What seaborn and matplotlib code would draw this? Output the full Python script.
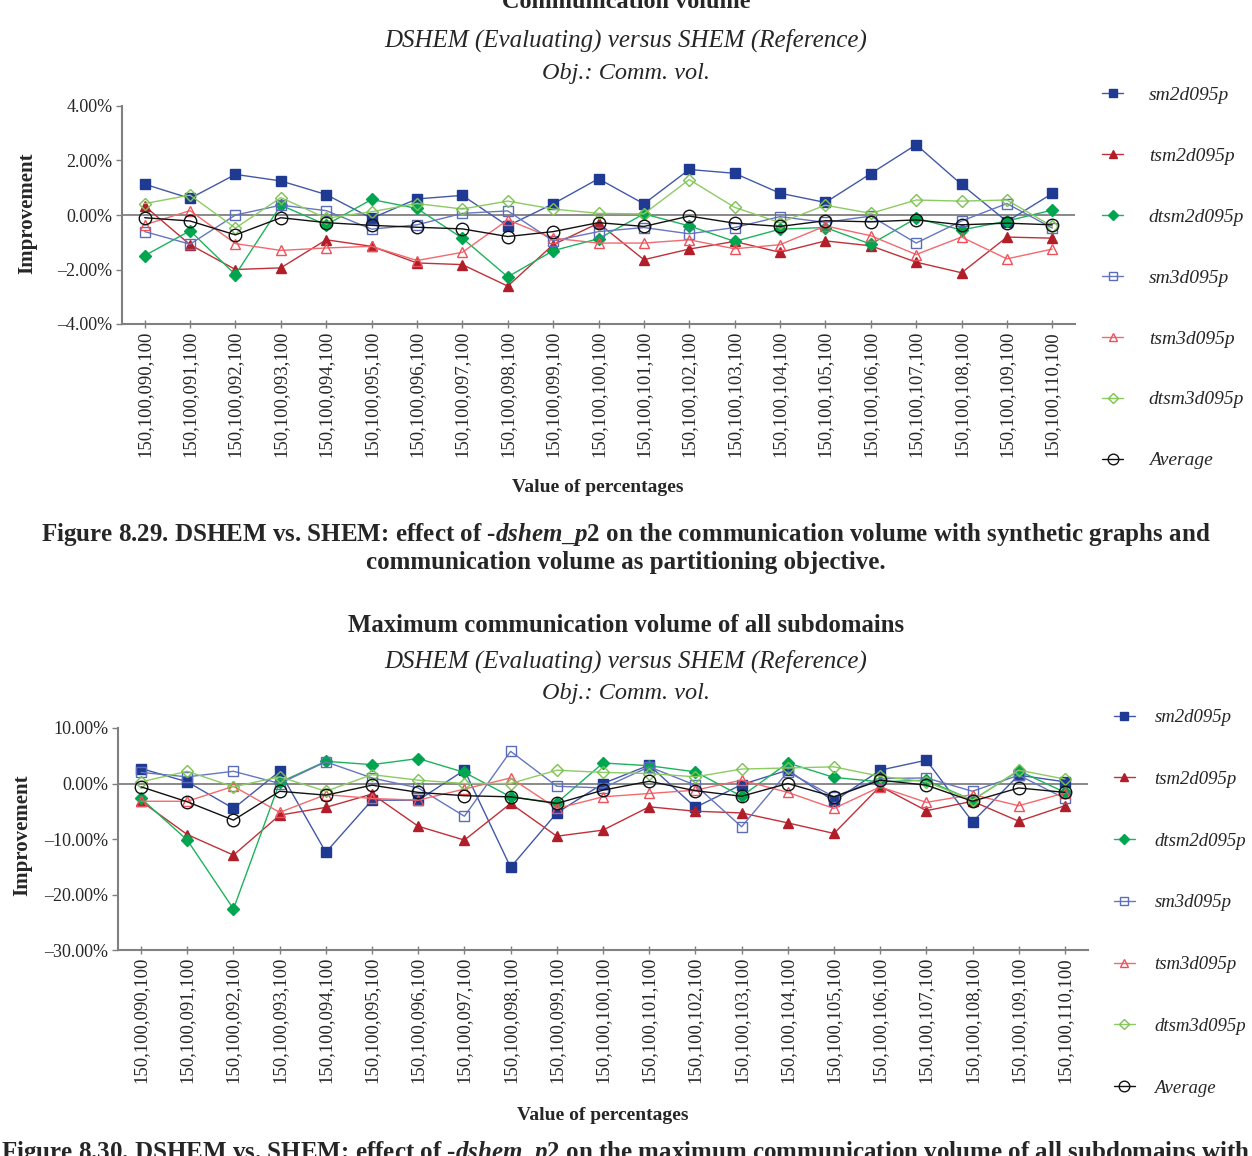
import numpy as np
import matplotlib.pyplot as plt
import pandas as pd
import seaborn as sns
from matplotlib.ticker import FuncFormatter

# ## data =====================================================================
settings = ['150,100,090,100', '150,100,091,100', '150,100,092,100', '150,100,093,100',
            '150,100,094,100', '150,100,095,100', '150,100,096,100', '150,100,097,100',
            '150,100,098,100', '150,100,099,100', '150,100,100,100', '150,100,101,100',
            '150,100,102,100', '150,100,103,100', '150,100,104,100', '150,100,105,100',
            '150,100,106,100', '150,100,107,100', '150,100,108,100', '150,100,109,100',
            '150,100,110,100']
series_names = ['sm2d095p', 'tsm2d095p', 'dtsm2d095p', 'sm3d095p', 'tsm3d095p', 'dtsm3d095p', 'Average']

# communication volume (%)
sm2d_cv = [1.13, 0.61, 1.49, 1.25, 0.75, -0.12, 0.59, 0.72, -0.40, 0.41, 1.33, 0.41, 1.67, 1.53, 0.80, 0.46, 1.52, 2.58, 1.12, -0.24, 0.79]
tsm2d_cv = [0.33, -1.09, -2.00, -1.94, -0.91, -1.15, -1.76, -1.82, -2.61, -1.09, -0.30, -1.64, -1.25, -0.97, -1.37, -0.95, -1.13, -1.73, -2.12, -0.81, -0.85]
dtsm2d_cv = [-1.49, -0.58, -2.19, 0.36, -0.36, 0.57, 0.24, -0.85, -2.27, -1.31, -0.87, 0.04, -0.40, -0.97, -0.52, -0.46, -1.07, -0.12, -0.55, -0.22, 0.18]
sm3d_cv = [-0.61, -1.07, 0.00, 0.36, 0.16, -0.52, -0.36, 0.06, 0.15, -0.95, -0.61, -0.46, -0.69, -0.46, -0.06, -0.27, -0.04, -1.03, -0.22, 0.42, -0.48]
tsm3d_cv = [-0.36, 0.16, -1.05, -1.30, -1.21, -1.15, -1.67, -1.37, -0.18, -0.85, -1.03, -1.03, -0.91, -1.24, -1.09, -0.40, -0.76, -1.45, -0.81, -1.61, -1.25]
dtsm3d_cv = [0.42, 0.73, -0.48, 0.64, -0.12, 0.12, 0.42, 0.22, 0.51, 0.22, 0.06, 0.04, 1.30, 0.28, -0.28, 0.36, 0.06, 0.55, 0.51, 0.55, -0.42]
avg_cv = [-0.10, -0.22, -0.73, -0.10, -0.28, -0.38, -0.45, -0.51, -0.79, -0.61, -0.28, -0.42, -0.04, -0.30, -0.42, -0.21, -0.25, -0.18, -0.36, -0.30, -0.36]

# maximum communication volume of all subdomains (%)
sm2d_max = [2.7, 0.3, -4.5, 2.2, -12.4, -3.0, -3.0, 2.4, -15.1, -5.3, 0.0, 3.3, -4.3, -0.2, 2.4, -3.2, 2.4, 4.2, -6.9, 1.5, 0.3]
tsm2d_max = [-3.2, -9.2, -12.9, -5.7, -4.3, -1.9, -7.7, -10.2, -3.6, -9.5, -8.4, -4.2, -5.0, -5.3, -7.1, -9.0, -0.5, -4.9, -3.2, -6.8, -4.0]
dtsm2d_max = [-2.7, -10.2, -22.6, 0.2, 4.0, 3.4, 4.5, 2.0, -2.4, -3.5, 3.7, 3.2, 2.1, -2.3, 3.7, 1.1, 0.3, 0.6, -3.0, 2.3, -1.6]
sm3d_max = [2.0, 1.2, 2.2, 0.0, 3.9, 1.0, -0.8, -5.9, 5.8, -0.5, -0.8, 3.0, -0.3, -7.8, 2.1, -2.4, 0.9, 1.0, -1.4, 1.5, -2.7]
tsm3d_max = [-3.2, -3.2, -0.5, -5.2, -2.0, -2.7, -3.0, -1.0, 1.0, -4.5, -2.4, -1.8, -1.2, 0.6, -1.6, -4.5, -0.6, -3.4, -2.0, -4.0, -1.7]
dtsm3d_max = [0.3, 2.2, -0.6, 1.2, -1.4, 1.6, 0.6, 0.0, 0.0, 2.4, 2.0, 1.8, 1.2, 2.6, 2.8, 3.0, 1.3, 0.3, -3.0, 2.4, 0.8]
avg_max = [-0.6, -3.3, -6.6, -1.4, -2.1, -0.3, -1.6, -2.2, -2.4, -3.6, -1.2, 0.4, -1.3, -2.3, 0.0, -2.4, 0.6, -0.3, -3.2, -0.8, -1.6]

df_cv = pd.DataFrame(dict(zip(['setting'] + series_names,
                              [settings, sm2d_cv, tsm2d_cv, dtsm2d_cv, sm3d_cv, tsm3d_cv, dtsm3d_cv, avg_cv])))
df_max = pd.DataFrame(dict(zip(['setting'] + series_names,
                               [settings, sm2d_max, tsm2d_max, dtsm2d_max, sm3d_max, tsm3d_max, dtsm3d_max, avg_max])))

# ## style ====================================================================
sns.set_theme(style='white')
plt.rcParams['font.family'] = ['Liberation Serif', 'DejaVu Serif']
plt.rcParams['mathtext.fontset'] = 'custom'
plt.rcParams['mathtext.rm'] = 'Liberation Serif:bold'
plt.rcParams['mathtext.it'] = 'Liberation Serif:bold:italic'

# marker colour, line colour, marker, filled, marker size
look = {
    'sm2d095p':   ('#1F3A93', '#4258A8', 's', True, 6.5),
    'tsm2d095p':  ('#B01E2A', '#C03038', '^', True, 7),
    'dtsm2d095p': ('#00A54F', '#1DB35C', 'D', True, 6),
    'sm3d095p':   ('#5B6CB9', '#6676C0', 's', False, 6.5),
    'tsm3d095p':  ('#F0505A', '#F26A6F', '^', False, 7.5),
    'dtsm3d095p': ('#7CC250', '#8CCB62', 'D', False, 6),
    'Average':    ('#111111', '#111111', 'o', False, 9),
}
GREY = '#808080'
W, H = 1252, 1156


def pct(v, pos):
    return f"{v:.2f}%".replace('-', '\u2013')


def draw(ax, df, ylim, step):
    for name in series_names:
        mc, lc, mk, filled, ms = look[name]
        sns.lineplot(data=df, x='setting', y=name, ax=ax, sort=False, color=lc, linewidth=1.0,
                     marker=mk, markersize=ms, markerfacecolor=mc if filled else 'none',
                     markeredgecolor=mc, markeredgewidth=1.0, label=name, zorder=3)
    if ax.get_legend() is not None:
        ax.get_legend().remove()
    ax.axhline(0, color=GREY, lw=1.3, zorder=1)
    ax.set_xlim(-0.5, len(settings) - 0.5)
    ax.set_ylim(*ylim)
    ax.set_yticks(np.arange(ylim[0], ylim[1] + step / 2, step))
    ax.yaxis.set_major_formatter(FuncFormatter(pct))
    ax.set_xlabel('')
    ax.set_ylabel('')
    sns.despine(ax=ax)
    for s in ['left', 'bottom']:
        ax.spines[s].set_color(GREY)
        ax.spines[s].set_linewidth(1.5)
    ax.tick_params(axis='x', rotation=90, labelsize=13.5, direction='inout', length=6,
                   width=1, color=GREY, pad=2, bottom=True)
    ax.tick_params(axis='y', labelsize=13, direction='out', length=4, width=1,
                   color=GREY, pad=3, left=True)


def fx(px):
    return px / W


def fy(py):
    return 1 - py / H


def side_legend(ax, x, y, spacing, size, textpad):
    h, l = ax.get_legend_handles_labels()
    fig.legend(h, l, loc='upper left', bbox_to_anchor=(fx(x), fy(y)), frameon=False,
               prop=dict(style='italic', size=size), labelspacing=spacing, handlelength=1.1,
               handletextpad=textpad, borderaxespad=0, borderpad=0, markerscale=0.85)


fig = plt.figure(figsize=(12.52, 11.56), dpi=100)

# ## top chart ================================================================
ax1 = fig.add_axes([fx(122), fy(324), fx(1075 - 122), (324 - 106) / H])
draw(ax1, df_cv, (-4, 4), 2)
fig.text(0.5, fy(2), 'Communication volume', ha='center', va='center', fontsize=17.5, fontweight='bold')
fig.text(0.5, fy(40), 'DSHEM (Evaluating) versus SHEM (Reference)', ha='center', va='center', fontsize=18, style='italic')
fig.text(0.5, fy(73), 'Obj.: Comm. vol.', ha='center', va='center', fontsize=17.5, style='italic')
fig.text(fx(27), fy(213), 'Improvement', rotation=90, ha='center', va='center', fontsize=15, fontweight='bold')
fig.text(fx(598), fy(488), 'Value of percentages', ha='center', va='center', fontsize=14, fontweight='bold')
side_legend(ax1, 1102, 86, 2.23, 14, 1.3)

fig.text(0.5, fy(534), r'Figure 8.29. DSHEM vs. SHEM: effect of $\mathit{\text{-}dshem\_p2}$ on the communication volume with synthetic graphs and',
         ha='center', va='center', fontsize=18, fontweight='bold')
fig.text(0.5, fy(562), 'communication volume as partitioning objective.', ha='center', va='center',
         fontsize=18, fontweight='bold')

# ## bottom chart =============================================================
ax2 = fig.add_axes([fx(118), fy(950), fx(1088 - 118), (950 - 728) / H])
draw(ax2, df_max, (-30, 10), 10)
fig.text(0.5, fy(625), 'Maximum communication volume of all subdomains', ha='center', va='center',
         fontsize=17.8, fontweight='bold')
fig.text(0.5, fy(661), 'DSHEM (Evaluating) versus SHEM (Reference)', ha='center', va='center', fontsize=18, style='italic')
fig.text(0.5, fy(694), 'Obj.: Comm. vol.', ha='center', va='center', fontsize=17.5, style='italic')
fig.text(fx(22), fy(835), 'Improvement', rotation=90, ha='center', va='center', fontsize=15, fontweight='bold')
fig.text(fx(603), fy(1116), 'Value of percentages', ha='center', va='center', fontsize=14, fontweight='bold')
side_legend(ax2, 1114, 709, 2.38, 13.5, 1.05)

fig.text(0.5, fy(1153), r'Figure 8.30. DSHEM vs. SHEM: effect of $\mathit{\text{-}dshem\_p2}$ on the maximum communication volume of all subdomains with',
         ha='center', va='center', fontsize=18, fontweight='bold')

fig.savefig('out.png', dpi=100)
